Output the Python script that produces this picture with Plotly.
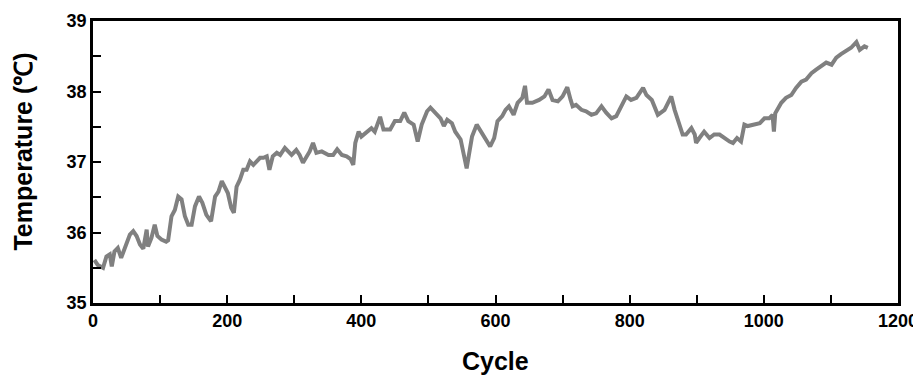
import plotly.graph_objects as go

cycle = [2, 7, 15, 20, 25, 28, 32, 37, 42, 47, 55, 60, 65, 70, 75, 80, 82, 87, 92, 96,
         102, 109, 112, 117, 122, 127, 132, 137, 142, 147, 152, 158, 163, 169, 176, 182, 187, 192, 197, 201,
         206, 210, 214, 219, 224, 229, 234, 239, 244, 249, 254, 259, 263, 268, 274, 279, 286, 291, 296, 303,
         308, 313, 318, 323, 328, 333, 341, 351, 358, 364, 371, 378, 384, 388, 391, 396, 400, 408, 415, 420,
         428, 433, 443, 450, 458, 464, 470, 478, 484, 490, 498, 503, 510, 518, 523, 528, 535, 540, 548, 553,
         557, 560, 565, 572, 578, 585, 592, 598, 603, 610, 615, 620, 627, 633, 640, 644, 647, 655, 665, 673,
         679, 685, 693, 700, 707, 712, 715, 720, 728, 735, 743, 750, 758, 765, 773, 780, 788, 795, 802, 810,
         820, 825, 833, 842, 852, 862, 867, 874, 879, 884, 892, 897, 899, 904, 911, 919, 926, 934, 941, 949,
         954, 960, 966, 971, 976, 984, 994, 1001, 1008, 1013, 1015, 1017, 1026, 1033, 1041, 1048, 1056, 1063, 1071, 1078,
         1086, 1093, 1101, 1108, 1115, 1123, 1130, 1138, 1143, 1150, 1155]

temperature = [35.61, 35.54, 35.50, 35.66, 35.69, 35.52, 35.73, 35.78, 35.64, 35.76, 35.97, 36.02, 35.95, 35.83, 35.77, 36.04, 35.80, 35.92, 36.11, 35.95,
               35.90, 35.87, 35.89, 36.23, 36.32, 36.51, 36.47, 36.23, 36.11, 36.11, 36.37, 36.51, 36.42, 36.25, 36.16, 36.51, 36.58, 36.73, 36.65, 36.56,
               36.35, 36.28, 36.65, 36.75, 36.89, 36.89, 37.01, 36.96, 37.01, 37.06, 37.06, 37.08, 36.89, 37.08, 37.13, 37.10, 37.20, 37.15, 37.10, 37.17,
               37.10, 36.99, 37.08, 37.15, 37.27, 37.13, 37.15, 37.10, 37.10, 37.18, 37.10, 37.08, 37.04, 36.96, 37.27, 37.43, 37.36, 37.43, 37.48, 37.43,
               37.64, 37.46, 37.46, 37.58, 37.58, 37.70, 37.58, 37.53, 37.29, 37.53, 37.72, 37.77, 37.70, 37.62, 37.51, 37.60, 37.55, 37.43, 37.32, 37.08,
               36.91, 37.08, 37.36, 37.53, 37.43, 37.32, 37.22, 37.34, 37.58, 37.65, 37.74, 37.79, 37.67, 37.84, 37.91, 38.08, 37.84, 37.84, 37.88, 37.93,
               38.03, 37.88, 37.86, 37.93, 38.06, 37.88, 37.79, 37.81, 37.74, 37.72, 37.67, 37.69, 37.79, 37.70, 37.62, 37.65, 37.81, 37.93, 37.88, 37.91,
               38.05, 37.95, 37.88, 37.67, 37.74, 37.93, 37.74, 37.55, 37.39, 37.39, 37.48, 37.39, 37.27, 37.34, 37.43, 37.34, 37.39, 37.39, 37.34, 37.29,
               37.27, 37.34, 37.29, 37.53, 37.51, 37.53, 37.55, 37.62, 37.62, 37.67, 37.43, 37.69, 37.84, 37.91, 37.95, 38.05, 38.14, 38.17, 38.26, 38.31,
               38.36, 38.41, 38.38, 38.48, 38.53, 38.57, 38.62, 38.70, 38.59, 38.64, 38.62]

x_title = "Cycle"
y_title = "Temperature (℃)"

font_family = "Liberation Sans, Arial, sans-serif"

fig = go.Figure()
fig.add_trace(go.Scatter(x=cycle, y=temperature, mode="lines",
                         line=dict(color="#808080", width=4), showlegend=False))

axis_common = dict(showline=True, linecolor="black", linewidth=2.5, mirror=True,
                   ticks="inside", ticklen=8, tickwidth=2, tickcolor="black",
                   showgrid=False, zeroline=False, automargin=False,
                   tickfont=dict(family=font_family, size=18, color="black", weight="bold"))

fig.update_xaxes(range=[0, 1200], tick0=0, dtick=200,
                 minor=dict(dtick=100, ticks="inside", ticklen=8, tickwidth=2, tickcolor="black", showgrid=False),
                 **axis_common)
fig.update_yaxes(range=[35, 39], tick0=35, dtick=1,
                 minor=dict(dtick=0.5, ticks="inside", ticklen=8, tickwidth=2, tickcolor="black", showgrid=False),
                 **axis_common)

fig.add_annotation(text=x_title, xref="paper", yref="paper", x=0.5, y=0,
                   xanchor="center", yanchor="top", yshift=-42, showarrow=False,
                   font=dict(family=font_family, size=25, color="black", weight="bold"))
fig.add_annotation(text=y_title, xref="paper", yref="paper", x=0, y=0.537,
                   xanchor="center", yanchor="middle", xshift=-70, textangle=-90, showarrow=False,
                   font=dict(family=font_family, size=25, color="black", weight="bold"))

# page body adds an 8px margin, so the figure is sized to fit the 921x375 window
fig.update_layout(width=913, height=367, margin=dict(l=85, r=23, t=13, b=72),
                  plot_bgcolor="white", paper_bgcolor="white")

fig.write_html("out.html")
